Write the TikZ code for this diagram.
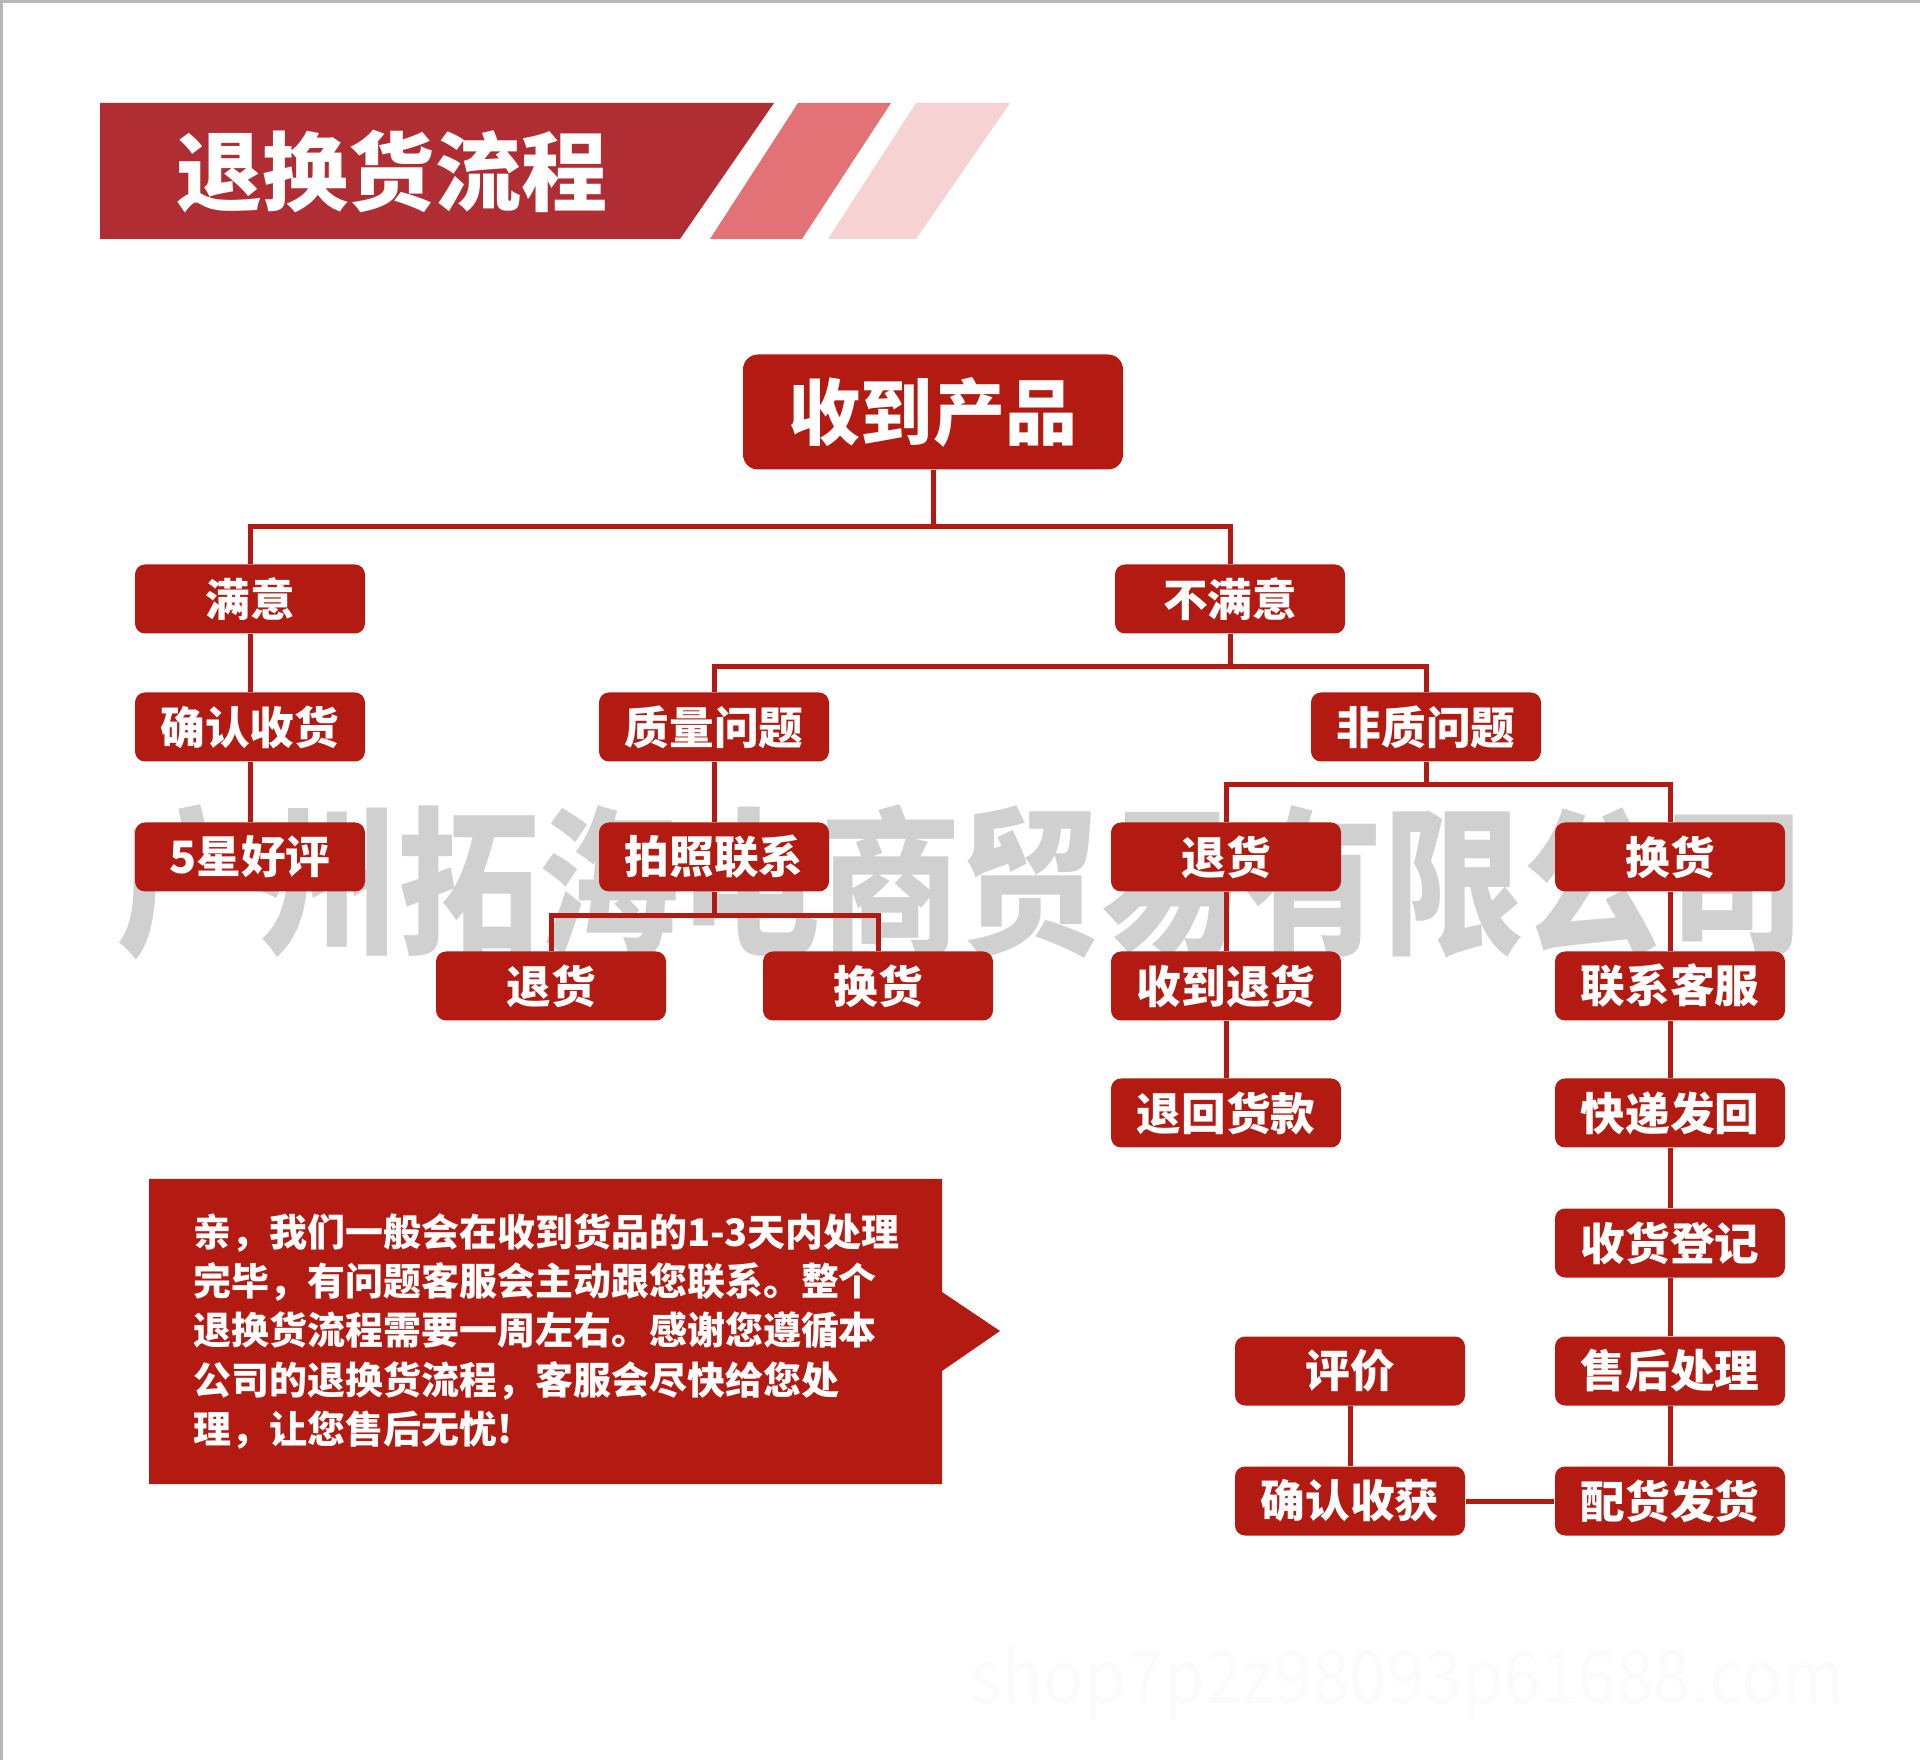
\documentclass[tikz,border=0pt]{standalone}
\usepackage{fontspec}
\setmainfont{Noto Sans CJK SC}
\usepackage{graphicx}
\usepackage{tikz}
\usetikzlibrary{positioning}
\definecolor{boxred}{RGB}{178, 26, 18}
\definecolor{bannerred}{RGB}{176, 46, 51}
\definecolor{stripemid}{RGB}{226, 114, 118}
\definecolor{stripelight}{RGB}{246, 210, 210}
\definecolor{markgray}{RGB}{208, 208, 208}

\begin{document}
\begin{tikzpicture}[x=0.1mm, y=-0.1mm,
  stepbox/.style={fill=boxred, text=white, rounded corners=1mm, minimum width=23mm,
    minimum height=6.9mm, inner sep=0pt, font=\fontsize{12.7}{14}\selectfont\bfseries},
  link/.style={draw=boxred, line width=0.5mm}]

  \useasboundingbox (0,0) rectangle (1920,1760);
  \draw[black!28, line width=0.3mm] (1.5,1760) -- (1.5,1.5) -- (1920,1.5);

  % title banner
  \fill[bannerred] (100,103) -- (774,103) -- (680,239) -- (100,239) -- cycle;
  \fill[stripemid] (798,103) -- (891,103) -- (802,239) -- (710,239) -- cycle;
  \fill[stripelight] (916,103) -- (1010,103) -- (916,239) -- (828,239) -- cycle;
  \node[text=white, font=\fontsize{24.5}{28}\selectfont\bfseries] (title) at (392,171) {退换货流程};

  % watermark
  \node[text=markgray, font=\fontsize{45.5}{50}\selectfont\bfseries] (mark) at (961,882)
    {\scalebox{0.88}[1]{广州拓海电商贸易有限公司}};
  \node[text=black!1.5, font=\fontsize{16}{18}\selectfont] (site) at (1408,1683)
    {\scalebox{1.2}[1.3]{shop7p2z98093p61688.com}};

  \node[stepbox, rounded corners=1.5mm, minimum width=38mm, minimum height=11.5mm,
    font=\fontsize{20.5}{24}\selectfont\bfseries] (root) at (933,412) {收到产品};

  \foreach \n/\x/\y/\t in {sat/250/599/满意, unsat/1230/599/不满意,
      confirm/250/727/确认收货, quality/714/727/质量问题, nonq/1426/727/非质问题,
      star/250/857/5星好评, photo/714/857/拍照联系, retR/1226/857/退货, excR/1670/857/换货,
      retL/551/986/退货, excL/878/986/换货, recv/1226/986/收到退货, contact/1670/986/联系客服,
      refund/1226/1113/退回货款, ship/1670/1113/快递发回,
      register/1670/1243/收货登记,
      rate/1350/1371/评价, after/1670/1371/售后处理,
      gotit/1350/1501/确认收获, deliver/1670/1501/配货发货} {
    \node[stepbox] (\n) at (\x,\y) {\t};
  }

  \coordinate (j1) at (933,527);
  \coordinate (j2) at (1230,667);
  \coordinate (j3) at (714,916);
  \coordinate (j4) at (1426,785);

  \draw[link] (root.south) -- (j1);
  \draw[link] (sat.north) |- (j1) -| (unsat.north);
  \draw[link] (unsat.south) -- (j2);
  \draw[link] (quality.north) |- (j2) -| (nonq.north);
  \draw[link] (photo.south) -- (j3);
  \draw[link] (retL.north) |- (j3) -| (excL.north);
  \draw[link] (nonq.south) -- (j4);
  \draw[link] (retR.north) |- (j4) -| (excR.north);

  \draw[link] (sat) -- (confirm);
  \draw[link] (confirm) -- (star);
  \draw[link] (quality) -- (photo);
  \draw[link] (retR) -- (recv);
  \draw[link] (recv) -- (refund);
  \draw[link] (excR) -- (contact);
  \draw[link] (contact) -- (ship);
  \draw[link] (ship) -- (register);
  \draw[link] (register) -- (after);
  \draw[link] (after) -- (deliver);
  \draw[link] (rate) -- (gotit);
  \draw[link] (gotit) -- (deliver);

  % note box
  \fill[boxred] (149,1179) -- (942,1179) -- (942,1292) -- (1000,1331) -- (942,1371)
    -- (942,1484) -- (149,1484) -- cycle;
  \node[anchor=north west, inner sep=0pt, align=left, text=white,
    font=\fontsize{10.8}{14}\selectfont\bfseries] (note) at (193,1213)
    {亲，我们一般会在收到货品的1-3天内处理\\
     完毕，有问题客服会主动跟您联系。整个\\
     退换货流程需要一周左右。感谢您遵循本\\
     公司的退换货流程，客服会尽快给您处\\
     理，让您售后无忧!};

\end{tikzpicture}
\end{document}
